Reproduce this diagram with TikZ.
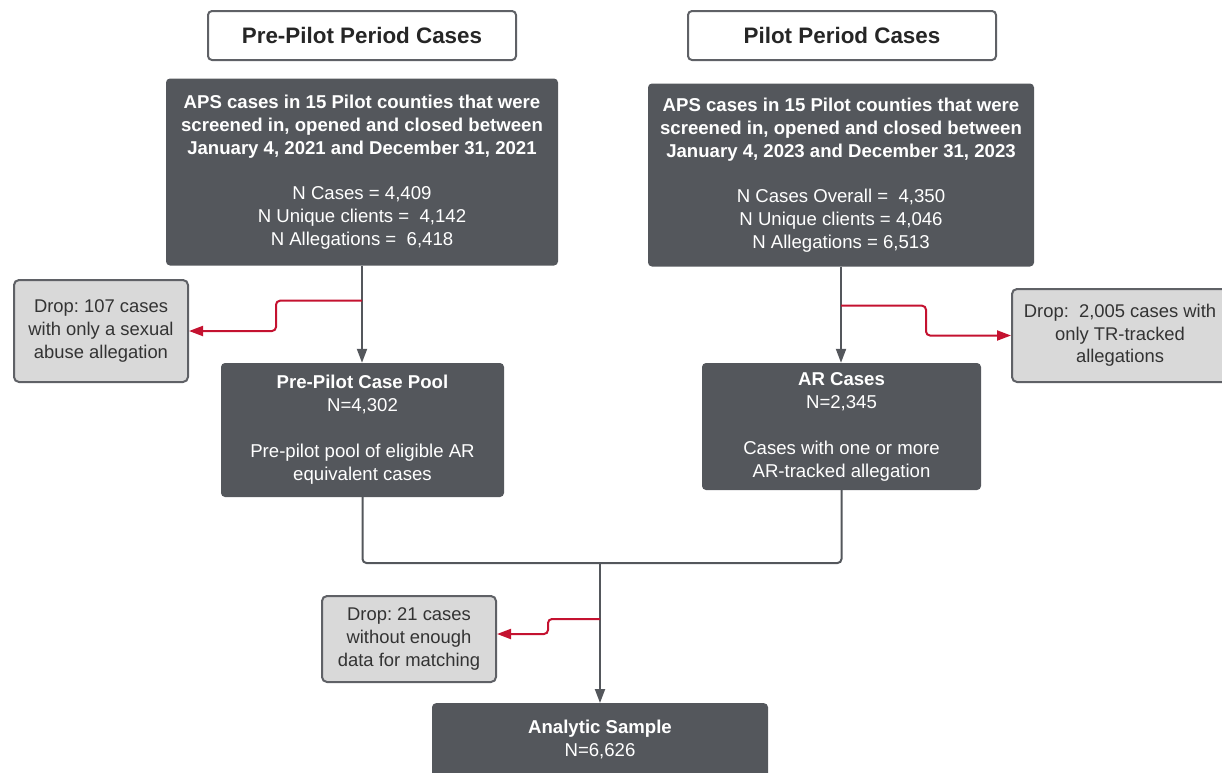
\documentclass[tikz,border=0pt]{standalone}
\usepackage{fontspec}
\setmainfont{Liberation Sans}
\usetikzlibrary{arrows.meta}
\definecolor{dark}{HTML}{54575C}
\definecolor{lightg}{HTML}{D9D9D9}
\definecolor{redc}{HTML}{C41230}
\definecolor{edgeg}{HTML}{5F6166}
\definecolor{txt}{HTML}{333333}
\frenchspacing
\begin{document}
\begin{tikzpicture}[x=1pt,y=-1pt,
  header/.style={draw=edgeg, line width=2pt, fill=white, rounded corners=4pt, minimum width=308pt, minimum height=49pt, inner sep=0pt, font=\fontsize{22.4}{26}\selectfont\bfseries, text=black!85},
  darkbox/.style={fill=dark, rounded corners=4pt, text=white, align=center, inner sep=0pt, font=\fontsize{18.6}{23}\selectfont},
  dropbox/.style={draw=edgeg, line width=2pt, fill=lightg, rounded corners=5pt, text=txt, align=center, inner sep=0pt, font=\fontsize{18.4}{22.6}\selectfont},
  conn/.style={draw=dark, line width=2pt, -{Triangle[length=14pt,width=10pt]}},
  plain/.style={draw=dark, line width=2pt, rounded corners=4pt},
  redconn/.style={draw=redc, line width=2pt, rounded corners=4pt, -{Triangle[length=14pt,width=10pt]}}
]
\useasboundingbox (0,0) rectangle (1222,772);

\node[header] (hpre) at (362,35.5) {Pre-Pilot Period Cases};
\node[header] (hpil) at (842,35.5) {Pilot Period Cases};

\node[darkbox, minimum width=392pt, minimum height=187pt] (box1) at (362,172)
 {\textbf{APS cases in 15 Pilot counties that were}\\
  \textbf{screened in, opened and closed between}\\
  \textbf{January 4, 2021 and December 31, 2021}\\[22pt]
  N Cases = 4,409\\
  N Unique clients =\ \ 4,142\\
  N Allegations =\ \ 6,418};

\node[darkbox, minimum width=386pt, minimum height=183pt] (box2) at (841,175)
 {\textbf{APS cases in 15 Pilot counties that were}\\
  \textbf{screened in, opened and closed between}\\
  \textbf{January 4, 2023 and December 31, 2023}\\[22pt]
  N Cases Overall =\ \ 4,350\\
  N Unique clients = 4,046\\
  N Allegations = 6,513};

\node[dropbox, minimum width=174pt, minimum height=102pt] (dropL) at (101,331)
 {Drop: 107 cases\\ with only a sexual\\ abuse allegation};

\node[darkbox, minimum width=283pt, minimum height=134pt] (pool) at (362.5,430)
 {\textbf{Pre-Pilot Case Pool}\\ N=4,302\\[23pt] Pre-pilot pool of eligible AR\\ equivalent cases};

\node[darkbox, minimum width=279pt, minimum height=127pt] (ar) at (841.5,426.5)
 {\textbf{AR Cases}\\ N=2,345\\[23pt] Cases with one or more\\ AR-tracked allegation};

\node[dropbox, minimum width=216pt, minimum height=93pt] (dropR) at (1120,335.5)
 {Drop:\ \ 2,005 cases with\\ only TR-tracked\\ allegations};

\node[dropbox, minimum width=174pt, minimum height=86pt] (dropB) at (409,639)
 {Drop: 21 cases\\ without enough\\ data for matching};

\node[darkbox, anchor=north, minimum width=336pt, minimum height=100pt] (sample) at (600,703) {};
\node[darkbox, fill=none, anchor=north] (sampletext) at ([yshift=-17pt]sample.north)
 {\textbf{Analytic Sample}\\ N=6,626};

% left stream
\draw[conn] (box1.south) -- (box1.south |- pool.north);
\path (box1.south) ++(0,35) coordinate (bL);
\draw[redconn] (bL) -- ++(-86,0) |- (dropL.east);

% right stream
\draw[conn] (box2.south) -- (box2.south |- ar.north);
\path (box2.south) ++(0,39) coordinate (bR);
\draw[redconn] (bR) -- ++(85,0) |- (dropR.west);

% merge
\coordinate (m) at (600,563);
\draw[plain] (pool.south) |- (m) -| (ar.south);
\draw[conn] (m) -- (sample.north);
\coordinate (bB) at (600,619);
\draw[redconn] (bB) -- ++(-52,0) |- ([yshift=5pt]dropB.east);
\end{tikzpicture}
\end{document}
